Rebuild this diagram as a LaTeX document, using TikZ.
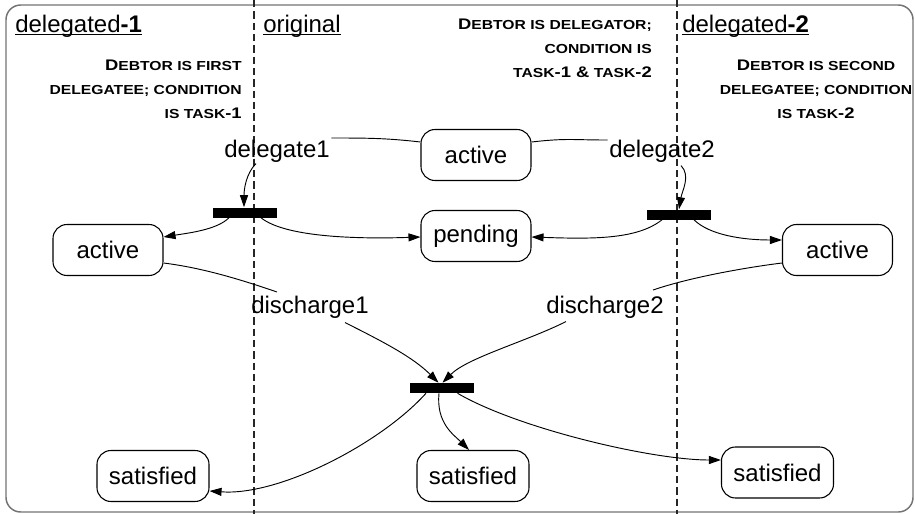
\documentclass[tikz,border=0pt]{standalone}
\usepackage{fontspec}
\setmainfont{Liberation Sans}
\newfontfamily\capsfont{Liberation Sans}[FakeStretch=1.2]
\usetikzlibrary{arrows.meta,calc}
% emulated small caps: large initial letters and digits, smaller capitals
\newcommand\capL[1]{{\fontsize{11.5}{18}\selectfont #1}}
\begin{document}
\begin{tikzpicture}[x=0.75pt,y=-0.75pt,
  state/.style={draw, rounded corners=10.5pt, minimum width=82.5pt,
    minimum height=38.25pt, inner xsep=9pt, line width=0.8pt,
    font=\fontsize{18}{21.6}\selectfont},
  bar/.style={fill=black, minimum width=48pt, minimum height=7.5pt, inner sep=0pt},
  lbl/.style={inner sep=1pt, anchor=base, font=\fontsize{18}{21.6}\selectfont},
  title/.style={inner sep=0pt, anchor=base west, font=\fontsize{18}{21.6}\selectfont},
  note/.style={inner sep=0pt, font=\capsfont\bfseries\fontsize{9.8}{18}\selectfont},
  flow/.style={line width=0.7pt, -{Triangle[length=9pt,width=6pt]}},
  link/.style={line width=0.7pt},
  lane/.style={dash pattern=on 5.5pt off 3pt, line width=0.9pt, black!85},
]
\useasboundingbox (0,0) rectangle (915,514);
\clip (0,0) rectangle (915,514);

% outer frame and swim-lane separators
\draw[black!55, line width=1.1pt, rounded corners=11pt] (6,5) rectangle (913,512);
\draw[lane] (254,0) -- (254,514);
\draw[lane] (677,0) -- (677,514);

% lane titles
\node[title] (t1) at (15,32) {delegated\textbf{-1}};
\node[title] (t2) at (263,32) {original};
\node[title] (t3) at (682,32) {delegated\textbf{-2}};
\foreach \t in {t1,t2,t3}
  \draw[line width=0.8pt] ($(\t.base west)+(0,2.5)$) -- ($(\t.base east)+(0,2.5)$);

% lane descriptions
\node[note, anchor=north east, align=right] (n1) at (242,60)
  {\capL{D}EBTOR IS FIRST\\DELEGATEE; CONDITION\\IS TASK\capL{-1}};
\node[note, anchor=north east, align=right] (n2) at (652,19)
  {\capL{D}EBTOR IS DELEGATOR;\\CONDITION IS\\TASK\capL{-1 \&} TASK\capL{-2}};
\node[note, anchor=north, align=center] (n3) at (816,60)
  {\capL{D}EBTOR IS SECOND\\DELEGATEE; CONDITION\\IS TASK\capL{-2}};

% states
\node[state] (ta) at (476,155) {active};
\node[state] (pe) at (476,236) {pending};
\node[state] (la) at (108,250) {active};
\node[state] (ra) at (837.5,250) {active};
\node[state] (ls) at (153,476) {satisfied};
\node[state] (ms) at (473,476) {satisfied};
\node[state] (rs) at (777.5,472.5) {satisfied};

% fork / join bars
\node[bar] (b1) at (245,212.5) {};
\node[bar] (b2) at (679,214.5) {};
\node[bar] (b3) at (441.5,388) {};

% transition labels
\node[lbl] (d1) at (277,157) {delegate1};
\node[lbl] (d2) at (662,157) {delegate2};
\node[lbl] (c1) at (310,313) {discharge1};
\node[lbl] (c2) at (605,313) {discharge2};

% delegations
\draw[link] ($(ta.west)+(0,-13)$) .. controls +(-35,-4) and +(35,0) .. (d1.north east);
\draw[flow] ($(d1.south)+(-21,0)$) .. controls +(-10,10) and +(0,-18) .. ($(b1.north)+(-1,0)$);
\draw[flow] ($(b1.south)+(-16,0)$) .. controls +(-12,12) and +(25,-4) .. ($(la.east)+(0,-13)$);
\draw[flow] ($(b1.south)+(16,0)$) .. controls +(25,20) and +(-60,2) .. ($(pe.west)+(0,1)$);

\draw[link] ($(ta.east)+(0,-13)$) .. controls +(35,-4) and +(-35,0) .. ($(d2.north west)+(0,2)$);
\draw[flow] ($(d2.south)+(19,2)$) .. controls +(10,10) and +(3,-18) .. (b2.north);
\draw[flow] ($(b2.south)+(-17,0)$) .. controls +(-25,20) and +(60,2) .. ($(pe.east)+(0,1)$);
\draw[flow] ($(b2.south)+(15,0)$) .. controls +(15,15) and +(-40,0) .. ($(ra.west)+(0,-10)$);

% discharges
\draw[link] ($(la.east)+(0,13)$) .. controls +(40,5) and +(-35,-12) .. ($(c1.north)+(-33,-2)$);
\draw[flow] ($(c1.south)+(35,3)$) .. controls +(40,20) and +(-25,-25) .. ($(b3.north)+(-3,0)$);
\draw[link] ($(ra.west)+(0,13)$) .. controls +(-40,5) and +(35,-12) .. ($(c2.north)+(48,-4)$);
\draw[flow] ($(c2.south)+(-39,2)$) .. controls +(-40,20) and +(25,-25) .. ($(b3.north)+(1,0)$);

% satisfaction
\draw[flow] ($(b3.south)+(-15.5,0)$) .. controls +(-45,50) and +(70,5) .. ($(ls.east)+(0,15)$);
\draw[flow] ($(b3.south)+(-2.5,0)$) .. controls +(-3,30) and +(-15,-15) .. ($(ms.north)+(-4,0)$);
\draw[flow] ($(b3.south)+(16,0)$) .. controls +(60,35) and +(-70,0) .. ($(rs.west)+(0,-12.5)$);
\end{tikzpicture}
\end{document}
